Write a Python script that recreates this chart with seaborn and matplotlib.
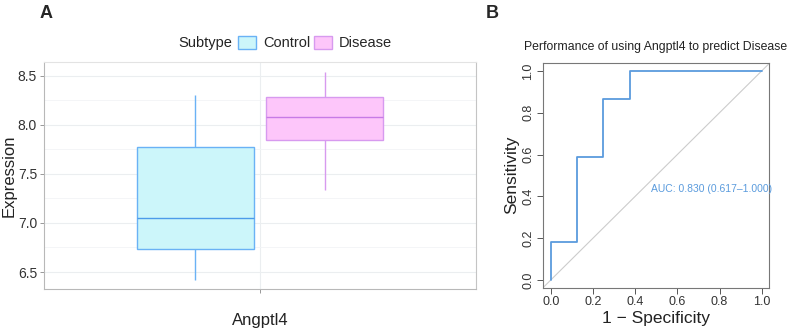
import numpy as np
import pandas as pd
import matplotlib
matplotlib.use("Agg")
import matplotlib.pyplot as plt
from matplotlib.patches import Patch
from matplotlib.ticker import MultipleLocator
import seaborn as sns

# ---- data ----
gene = "Angptl4"
subtypes = ["Control", "Disease"]
control_expr = [6.42, 6.73, 7.05, 7.77, 8.31]
disease_expr = [7.34, 7.85, 8.08, 8.29, 8.54]
fpr = [0.0, 0.0, 0.125, 0.125, 0.25, 0.25, 0.375, 0.375, 1.0]
tpr = [0.0, 0.18, 0.18, 0.59, 0.59, 0.864, 0.864, 1.0, 1.0]
auc_text = "AUC: 0.830 (0.617\u20131.000)"

fill_cols = {"Control": "#CCF6FA", "Disease": "#FDC6FA"}
edge_cols = {"Control": "#6AB2F5", "Disease": "#D79AEF"}

sns.set_theme(style="white")
plt.rcParams["font.family"] = ["Liberation Sans", "DejaVu Sans"]

df = pd.DataFrame({
    "Gene": [gene] * (len(control_expr) + len(disease_expr)),
    "Subtype": ["Control"] * len(control_expr) + ["Disease"] * len(disease_expr),
    "Expression": control_expr + disease_expr,
})

fig = plt.figure(figsize=(7.9, 3.31), dpi=100)

# ---- Panel A ----
axA = fig.add_axes([44 / 790, 0.127, 432 / 790, 0.686])
sns.boxplot(data=df, x="Gene", y="Expression", hue="Subtype", hue_order=subtypes,
            palette=fill_cols, width=0.6, gap=0.1, showcaps=False, whis=1.5,
            linewidth=1.0, legend=False, ax=axA)
for cont, st in zip(axA.containers, subtypes):
    ec = edge_cols[st]
    for b in cont.boxes:
        b.set_edgecolor(ec)
        b.set_facecolor(fill_cols[st])
        b.set_linewidth(1.0)
    for ln in list(cont.whiskers) + list(cont.medians):
        ln.set_color(ec)
        ln.set_linewidth(1.0)
    for ln in cont.medians:
        ln.set_color("#4C9BEA" if st == "Control" else "#C77BE6")

axA.set_xlim(-0.5, 0.5)
axA.set_ylim(6.327, 8.643)
axA.yaxis.set_major_locator(MultipleLocator(0.5))
axA.yaxis.set_minor_locator(MultipleLocator(0.25))
axA.yaxis.set_major_formatter(matplotlib.ticker.FormatStrFormatter("%.1f"))
axA.grid(True, which="major", axis="both", color="#EBEEF0", linewidth=0.8)
axA.grid(True, which="minor", axis="y", color="#F2F4F6", linewidth=0.6)
axA.set_axisbelow(True)
axA.set_xlabel(gene, fontsize=12, color="#222222", labelpad=14)
axA.set_ylabel("Expression", fontsize=12, color="#222222")
axA.yaxis.set_label_coords(-27 / 432, 0.5)
axA.tick_params(axis="y", labelsize=10, colors="#333333", length=3, width=0.6,
                direction="out", left=True, color="#888888", pad=2)
axA.tick_params(axis="x", labelbottom=False, length=3, width=0.6, bottom=True,
                color="#888888")
axA.spines["top"].set_color("#E3E3E3")
axA.spines["right"].set_color("#C4C4C4")
for s in ["left", "bottom"]:
    axA.spines[s].set_color("#B8B8B8")
for s in axA.spines.values():
    s.set_linewidth(0.8)

# legend
fig.text(232 / 790, 1 - 43 / 331, "Subtype", ha="right", va="center", fontsize=10.5,
         color="#222222")
handles = [Patch(facecolor=fill_cols[s], edgecolor=edge_cols[s], linewidth=1.0)
           for s in subtypes]
fig.legend(handles, subtypes, loc="center left", bbox_to_anchor=(238 / 790, 1 - 43 / 331),
           ncol=2, frameon=False, fontsize=10.5, handlelength=1.2, handleheight=1.0,
           handletextpad=0.5, columnspacing=0.3, borderpad=0, borderaxespad=0)

# ---- Panel B ----
axB = fig.add_axes([0.687, 0.130, 0.286, 0.681])
axB.set_facecolor("white")
axB.axline((0, 0), (1, 1), color="#CCCCCC", linewidth=0.8, zorder=1)
sns.lineplot(x=fpr, y=tpr, sort=False, estimator=None,
             color="#5A9BDD", linewidth=1.3, ax=axB, zorder=3)
axB.text(0.763, 0.435, auc_text, ha="center", va="center", fontsize=7.5, color="#5A9BDD")
axB.set_xlim(-0.038, 1.033)
axB.set_ylim(-0.038, 1.04)
axB.set_xticks([0, 0.2, 0.4, 0.6, 0.8, 1.0])
axB.set_yticks([0, 0.2, 0.4, 0.6, 0.8, 1.0])
axB.set_xticklabels(["0.0", "0.2", "0.4", "0.6", "0.8", "1.0"])
axB.set_yticklabels(["0.0", "0.2", "0.4", "0.6", "0.8", "1.0"], rotation=90, va="center")
axB.tick_params(axis="both", labelsize=9, colors="#333333", length=4, width=0.7,
                direction="out", bottom=True, left=True, color="#555555", pad=2)
axB.set_xlabel("1 \u2212 Specificity", fontsize=12.5, color="#222222", labelpad=2)
axB.set_ylabel("Sensitivity", fontsize=12.5, color="#222222", labelpad=2)
axB.set_title("Performance of using Angptl4 to predict Disease", fontsize=8.8,
              color="#222222", pad=9)
for s in axB.spines.values():
    s.set_color("#777777")
    s.set_linewidth(0.8)
axB.grid(False)

# panel labels
fig.text(40 / 790, 1 - 13 / 331, "A", fontsize=13, fontweight="bold", va="center", ha="left")
fig.text(486 / 790, 1 - 13 / 331, "B", fontsize=13, fontweight="bold", va="center", ha="left")

fig.savefig("out.png", dpi=100)
